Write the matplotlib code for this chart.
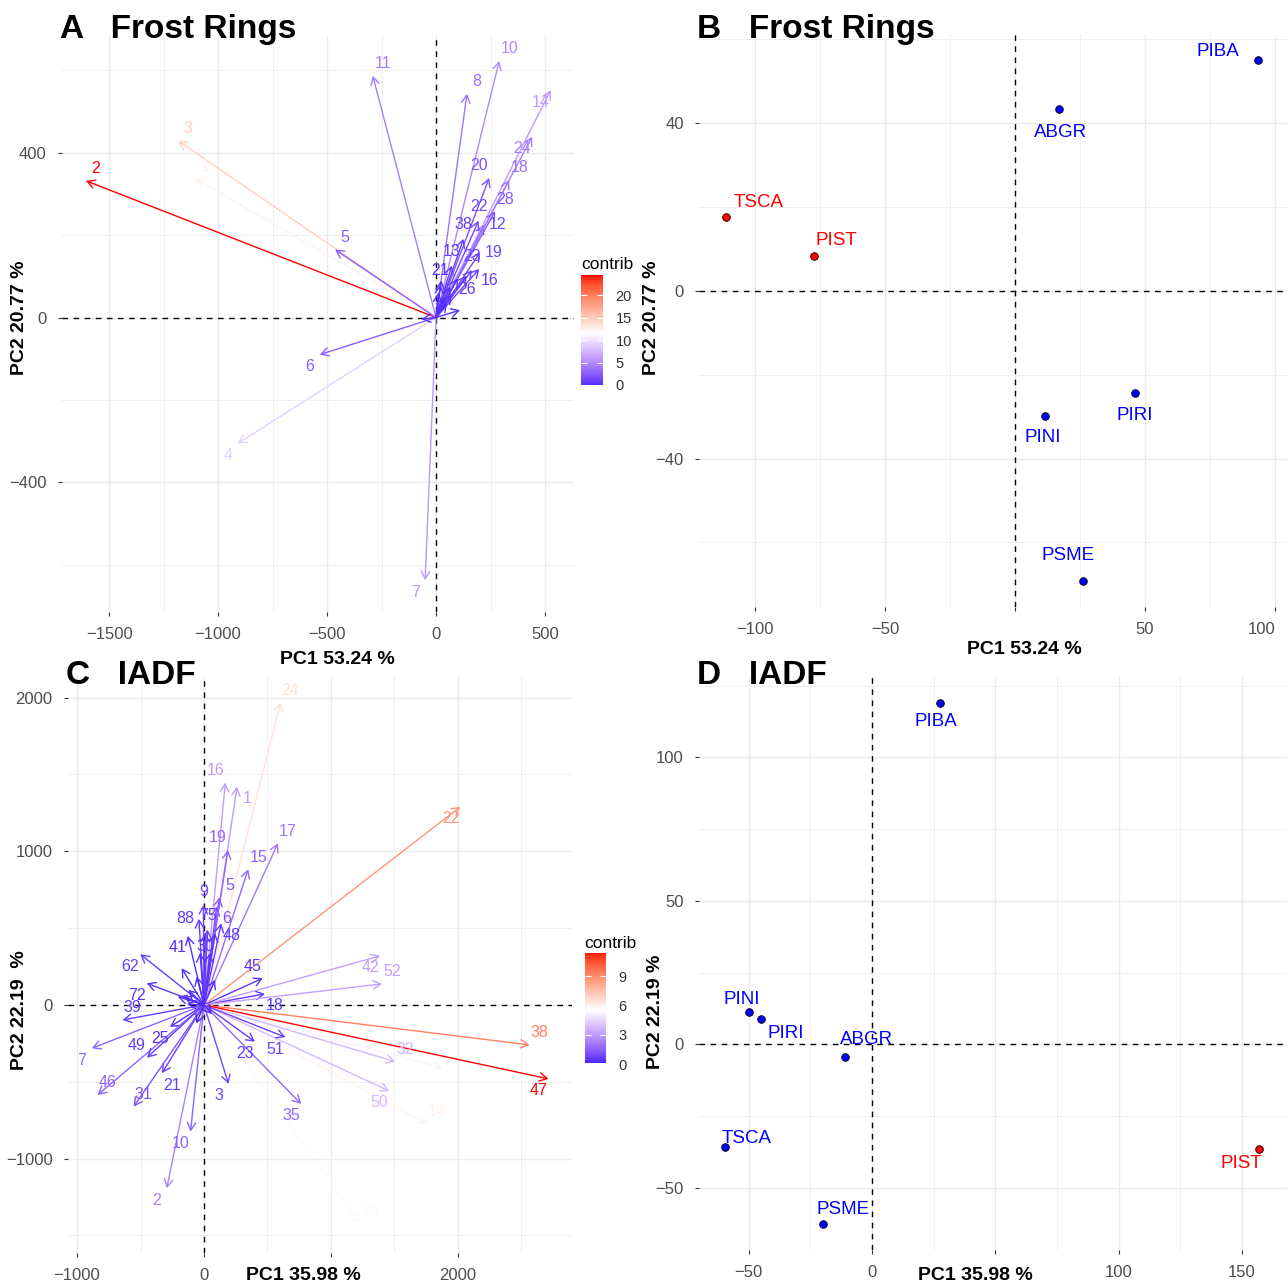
import numpy as np
import matplotlib
matplotlib.use('Agg')
import matplotlib.pyplot as plt
from matplotlib.colors import ListedColormap, Normalize

plt.rcParams['font.family'] = ['Liberation Sans', 'DejaVu Sans']

# ---------------- DATA ----------------
# Panel A: Frost Rings variable loadings
fr_vars = ['1', '2', '3', '4', '5', '6', '7', '8', '10', '11', '12', '13', '14', '16', '18', '19',
           '20', '21', '22', '23', '24', '26', '28', '38',
           '9', '15', '17', '25', '27', '29', '30', '31', '32']
fr_pc1 = [-1105, -1606, -1183, -910, -463, -533, -50, 142, 290, -290, 220, 72, 526, 198, 336, 202,
          244, 20, 195, 165, 441, 141, 271, 126,
          11, 35, 70, 110, -66, 50, 65, 100, 25]
fr_pc2 = [337, 332, 429, -306, 165, -90, -638, 543, 623, 587, 225, 126, 552, 118, 334, 158,
          339, 80, 235, 115, 439, 102, 258, 191,
          60, 50, 55, 18, -4, 35, 75, 95, 90]
fr_contrib = [12.6, 24.5, 14.8, 9.0, 2.6, 2.6, 5.8, 3.8, 5.0, 4.3, 1.6, 0.8, 6.0, 1.0, 3.5, 1.4,
              2.0, 0.5, 1.5, 1.0, 4.4, 0.8, 2.2, 0.9,
              0.2, 0.2, 0.3, 0.3, 0.1, 0.1, 0.3, 0.4, 0.2]
fr_hidden = ['9', '15', '17', '25', '27', '29', '30', '31', '32']
fr_mid = 11.6

# Panel C: IADF variable loadings
ia_vars = ['1', '2', '3', '5', '6', '7', '9', '10', '14', '15', '16', '17', '18', '19', '21', '22',
           '23', '24', '25', '29', '30', '31', '32', '35', '38', '39', '41', '42', '44', '45', '46',
           '47', '48', '49', '50', '51', '52', '62', '72', '75', '88',
           '4', '8', '11', '12', '13', '20', '26', '27', '28', '33', '34', '36']
ia_pc1 = [261, -293, 193, 121, 99, -884, -5, -106, 1755, 348, 168, 582, 480, 189, -331, 2020,
          401, 603, -268, 1226, 10, -554, 1506, 765, 2564, -642, -128, 1387, 1880, 463, -838,
          2713, 136, -449, 1459, 641, 1403, -502, -451, 28, -40,
          -176, -124, -207, -57, -31, 47, 87, 87, -134, -159, 60, -60]
ia_pc2 = [1420, -1193, -514, 700, 640, -282, 650, -824, -770, 883, 1446, 1052, 72, 1008, -444, 1290,
          -239, 1967, -143, -1420, 470, -662, -369, -644, -260, -98, 449, 319, -410, 174, -586,
          -481, 531, -343, -560, -210, 137, 330, 141, 490, 560,
          239, 98, 54, 184, 338, 338, 163, 468, 5, 54, -60, -120]
ia_contrib = [3.0, 2.3, 0.8, 1.2, 1.0, 1.5, 0.8, 1.5, 5.9, 1.6, 3.0, 2.0, 0.5, 1.6, 0.6, 8.7,
              0.6, 6.4, 0.3, 5.7, 0.4, 1.1, 3.7, 1.6, 9.3, 0.6, 0.3, 3.1, 5.2, 0.4, 1.5,
              11.4, 0.5, 0.6, 3.7, 0.7, 3.1, 0.6, 0.4, 0.6, 0.5,
              0.3, 0.2, 0.3, 0.2, 0.3, 0.3, 0.2, 0.4, 0.2, 0.2, 0.1, 0.1]
ia_hidden = ['4', '8', '11', '12', '13', '20', '26', '27', '28', '33', '34', '36', '44']
ia_mid = 5.5

# Panels B and D: species scores
species = ['TSCA', 'PIST', 'ABGR', 'PIBA', 'PINI', 'PIRI', 'PSME']
fr_dim1 = [-111.5, -77.3, 16.9, 93.5, 11.5, 46.2, 26.2]
fr_dim2 = [17.7, 8.4, 43.4, 55.1, -29.8, -24.3, -69.2]
fr_group = ['high', 'high', 'low', 'low', 'low', 'low', 'low']
ia_dim1 = [-59.6, 156.8, -10.9, 27.7, -50.0, -45.1, -20.0]
ia_dim2 = [-35.7, -36.6, -4.3, 118.9, 11.2, 8.8, -62.8]
ia_group = ['low', 'high', 'low', 'low', 'low', 'low', 'low']

# ---------------- STYLE ----------------
W, H = 1287, 1288
PT = 0.72  # points per pixel at dpi 100
GROUP_COL = {'high': '#FF0000', 'low': '#0000FF'}
SIDE = {'ne': (10, 12), 'nw': (-10, 12), 'se': (10, -12), 'sw': (-10, -12),
        'n': (0, 14), 's': (0, -14), 'e': (14, 0), 'w': (-14, 0)}
FR_SIDE = {'1': 'ne', '2': 'ne', '3': 'ne', '4': 'sw', '5': 'ne', '6': 'sw', '7': 'sw', '8': 'ne',
           '10': 'ne', '11': 'ne', '12': 'e', '13': 'n', '14': 'sw', '16': 'se', '18': 'ne',
           '19': 'e', '20': 'nw', '21': 'n', '22': 'n', '23': 'n', '24': 'sw', '26': 's',
           '28': 'ne', '38': 'n'}
IA_SIDE = {'24': 'ne', '16': 'nw', '1': 'se', '22': 'sw', '17': 'ne', '19': 'nw', '15': 'ne',
           '5': 'ne', '9': 'n', '6': 'se', '48': 'se', '75': 'n', '88': 'w', '30': 's',
           '62': 'sw', '41': 'sw', '72': 'sw', '39': 'ne', '7': 'sw', '49': 'nw', '25': 'sw',
           '46': 'ne', '31': 'ne', '21': 'se', '10': 'sw', '2': 'sw', '3': 'sw', '23': 'sw',
           '51': 'sw', '35': 'sw', '18': 'se', '45': 'nw', '38': 'ne', '47': 'sw', '32': 'ne',
           '50': 'sw', '14': 'ne', '29': 'ne', '42': 'sw', '52': 'ne'}
B_OFF = {'PIBA': (-40, 8), 'ABGR': (1, -24), 'TSCA': (33, 14), 'PIST': (22, 15),
         'PINI': (-2, -22), 'PIRI': (-1, -23), 'PSME': (-15, 25)}
D_OFF = {'PIBA': (-4, -18), 'PINI': (-7, 13), 'PIRI': (25, -14), 'ABGR': (21, 17),
         'TSCA': (21, 8), 'PSME': (20, 15), 'PIST': (-17, -14)}


def lab_to_rgb(L, a, b):
    fy = (L + 16) / 116.0
    fx = fy + a / 500.0
    fz = fy - b / 200.0
    d = 6 / 29

    def finv(t):
        return np.where(t > d, t ** 3, 3 * d * d * (t - 4 / 29))
    X = 0.95047 * finv(fx)
    Y = finv(fy)
    Z = 1.08883 * finv(fz)
    r = 3.2406 * X - 1.5372 * Y - 0.4986 * Z
    g = -0.9689 * X + 1.8758 * Y + 0.0415 * Z
    bb = 0.0557 * X - 0.2040 * Y + 1.0570 * Z
    rgb = np.stack([r, g, bb], axis=-1)
    rgb = np.clip(rgb, 0, 1)
    rgb = np.where(rgb <= 0.0031308, 12.92 * rgb, 1.055 * rgb ** (1 / 2.4) - 0.055)
    return np.clip(rgb, 0, 1)


blue_lab = np.array([32.30, 79.19, -107.86])
white_lab = np.array([100.0, 0.0, 0.0])
red_lab = np.array([53.24, 80.09, 67.20])
t = np.linspace(0, 1, 128)[:, None]
lower = blue_lab * (1 - t) + white_lab * t
upper = white_lab * (1 - t) + red_lab * t
labs = np.vstack([lower, upper])
CMAP = ListedColormap(lab_to_rgb(labs[:, 0], labs[:, 1], labs[:, 2]))


def mid_norm(vals, mid):
    d = max(mid - min(vals), max(vals) - mid)
    return Normalize(mid - d, mid + d)


def rect(x0, y0, x1, y1):
    return [x0 / W, 1 - y1 / H, (x1 - x0) / W, (y1 - y0) / H]


def fmt(v):
    s = '%g' % v
    return s.replace('-', '\u2212')


def setup(ax, xlim, ylim, xmaj, xmin, ymaj, ymin, xhide=()):
    ax.set_xlim(*xlim)
    ax.set_ylim(*ylim)
    ax.set_xticks(xmaj)
    ax.set_xticks(xmin, minor=True)
    ax.set_yticks(ymaj)
    ax.set_yticks(ymin, minor=True)
    ax.set_xticklabels(['' if v in xhide else fmt(v) for v in xmaj])
    ax.set_yticklabels([fmt(v) for v in ymaj])
    ax.grid(which='major', color='#EBEBEB', lw=1.0)
    ax.grid(which='minor', color='#EFEFEF', lw=0.7)
    ax.set_axisbelow(True)
    for s in ax.spines.values():
        s.set_visible(False)
    ax.tick_params(which='major', length=3, width=0.8, color='#333333',
                   labelcolor='#4D4D4D', labelsize=12, pad=8)
    ax.tick_params(which='minor', length=0)
    ax.axhline(0, color='black', ls=(0, (4, 4)), lw=1.0, zorder=1)
    ax.axvline(0, color='black', ls=(0, (4, 4)), lw=1.0, zorder=1)


def draw_vars(ax, names, xs, ys, contrib, mid, hidden, sides):
    norm = mid_norm(contrib, mid)
    for n, x, y, c in zip(names, xs, ys, contrib):
        col = CMAP(norm(c))
        ax.annotate('', xy=(x, y), xytext=(0, 0),
                    arrowprops=dict(arrowstyle='->,head_length=0.45,head_width=0.25',
                                    color=col, lw=1.0, shrinkA=0, shrinkB=0,
                                    mutation_scale=12), zorder=3)
        if n in hidden:
            continue
        dx, dy = SIDE[sides.get(n, 'ne')]
        ax.annotate(n, xy=(x, y), xytext=(dx * PT, dy * PT), textcoords='offset points',
                    ha='center', va='center', color=col, fontsize=11.5, zorder=4)
    return norm


def draw_ind(ax, names, xs, ys, groups, offs):
    for n, x, y, g in zip(names, xs, ys, groups):
        col = GROUP_COL[g]
        ax.plot([x], [y], 'o', ms=5.5, mfc=col, mec='black', mew=0.6, zorder=3)
        dx, dy = offs[n]
        ax.annotate(n, xy=(x, y), xytext=(dx * PT, dy * PT), textcoords='offset points',
                    ha='center', va='center', color=col, fontsize=13.5, zorder=4)


def colorbar(rc, vals, mid, ticks, title_xy):
    cax = fig.add_axes(rect(*rc))
    lo, hi = min(vals), max(vals)
    norm = mid_norm(vals, mid)
    grad = np.linspace(lo, hi, 300)[:, None]
    cax.imshow(grad, cmap=CMAP, norm=norm, extent=[0, 1, lo, hi], aspect='auto', origin='lower')
    cax.set_xlim(0, 1)
    cax.set_ylim(lo, hi)
    cax.set_xticks([])
    cax.set_yticks(ticks)
    cax.yaxis.tick_right()
    cax.tick_params(axis='y', direction='in', length=4, color='white', width=0.8,
                    labelsize=10.5, labelcolor='#333333', pad=9, left=True, right=True)
    for s in cax.spines.values():
        s.set_visible(False)
    fig.text(title_xy[0] / W, 1 - title_xy[1] / H, 'contrib', ha='center', va='center',
             fontsize=12.5)


fig = plt.figure(figsize=(12.87, 12.88), dpi=100)

# ---- Panel A ----
axA = fig.add_axes(rect(62, 35, 574, 612))
setup(axA, (-1716, 633), (-715, 686), [-1500, -1000, -500, 0, 500], [-1250, -750, -250, 250],
      [-400, 0, 400], [-600, -200, 200, 600])
draw_vars(axA, fr_vars, fr_pc1, fr_pc2, fr_contrib, fr_mid, fr_hidden, FR_SIDE)
colorbar((581, 275, 603, 385), fr_contrib, fr_mid, [0, 5, 10, 15, 20], (607, 264))

# ---- Panel B ----
axB = fig.add_axes(rect(699, 35, 1287, 607))
setup(axB, (-121.7, 104.6), (-75.4, 61), [-100, -50, 0, 50, 100], [-75, -25, 25, 75],
      [-40, 0, 40], [-60, -20, 20, 60], xhide=(0,))
axB.get_xticklabels()[-1].set_horizontalalignment('right')
draw_ind(axB, species, fr_dim1, fr_dim2, fr_group, B_OFF)

# ---- Panel C ----
axC = fig.add_axes(rect(68, 676, 572, 1253))
setup(axC, (-1071, 2898), (-1614, 2140), [-1000, 0, 1000, 2000], [-500, 500, 1500, 2500],
      [-1000, 0, 1000, 2000], [-1500, -500, 500, 1500], xhide=(1000,))
draw_vars(axC, ia_vars, ia_pc1, ia_pc2, ia_contrib, ia_mid, ia_hidden, IA_SIDE)
colorbar((585, 953, 606, 1064), ia_contrib, ia_mid, [0, 3, 6, 9], (610, 943))

# ---- Panel D ----
axD = fig.add_axes(rect(699, 677, 1287, 1250))
setup(axD, (-70.2, 168.3), (-71.7, 128), [-50, 0, 50, 100, 150], [-25, 25, 75, 125],
      [-50, 0, 50, 100], [-25, 25, 75, 125], xhide=(50,))
draw_ind(axD, species, ia_dim1, ia_dim2, ia_group, D_OFF)


# ---- titles and axis titles ----
def ftext(x, y, s, **kw):
    fig.text(x / W, 1 - y / H, s, **kw)


ftext(60, 38, 'A   Frost Rings', fontsize=24, fontweight='bold', va='baseline', ha='left')
ftext(697, 38, 'B   Frost Rings', fontsize=24, fontweight='bold', va='baseline', ha='left')
ftext(66, 684, 'C   IADF', fontsize=24, fontweight='bold', va='baseline', ha='left')
ftext(697, 684, 'D   IADF', fontsize=24, fontweight='bold', va='baseline', ha='left')

ax_kw = dict(fontsize=14, fontweight='bold', ha='center', va='center')
ftext(337, 660, 'PC1 53.24 %', **ax_kw)
ftext(1024, 650, 'PC1 53.24 %', **ax_kw)
ftext(303, 1276, 'PC1 35.98 %', **ax_kw)
ftext(975, 1275, 'PC1 35.98 %', **ax_kw)
ftext(20, 318, 'PC2 20.77 %', rotation=90, **ax_kw)
ftext(652, 318, 'PC2 20.77 %', rotation=90, **ax_kw)
ftext(20, 1010, 'PC2 22.19  %', rotation=90, **ax_kw)
ftext(655, 1012, 'PC2 22.19 %', rotation=90, **ax_kw)

fig.savefig('out.png', dpi=100, facecolor='white')
